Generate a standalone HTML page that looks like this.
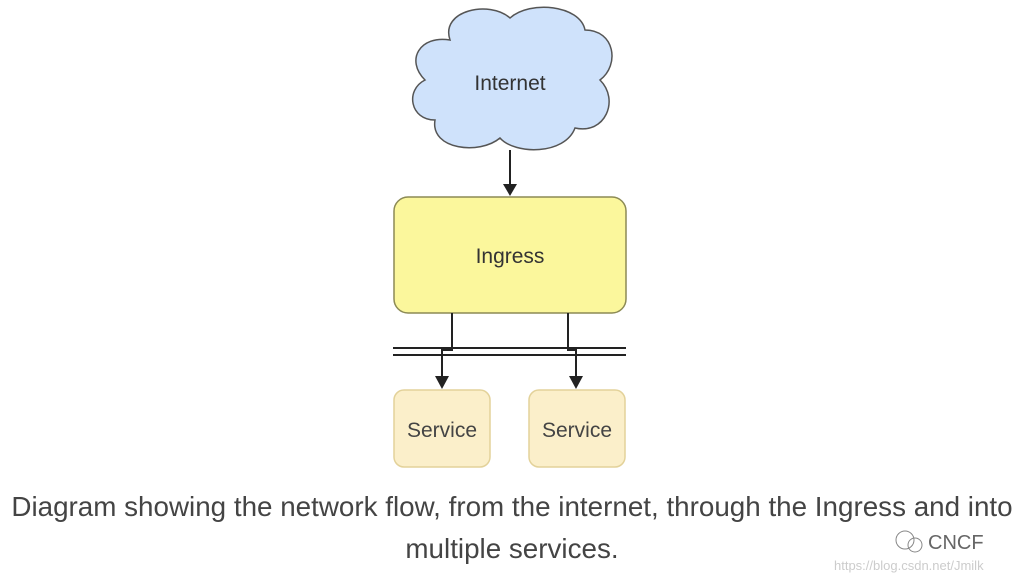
<!DOCTYPE html>
<html><head><style>
body{margin:0;width:1024px;height:582px;background:#fff;overflow:hidden;position:relative;font-family:"Liberation Sans",sans-serif}
.cap{position:absolute;left:0;width:1024px;text-align:center;font-family:"Liberation Sans",sans-serif;font-size:27.8px;color:#444;line-height:42px;top:486px;white-space:nowrap}
</style></head><body>
<svg width="1024" height="582" style="position:absolute;left:0;top:0">
<path d="M450,40 C440,10 490,0 510,18 C530,0 580,5 585,30 C615,30 620,65 600,80 C620,100 605,135 575,128 C565,155 515,155 500,138 C480,155 430,150 435,120 C410,120 405,90 425,80 C405,60 420,35 450,40 Z" fill="#cfe2fb" stroke="#555" stroke-width="1.5"/>
<text x="510" y="90" text-anchor="middle" font-size="21" fill="#333">Internet</text>
<line x1="510" y1="150" x2="510" y2="186" stroke="#222" stroke-width="2"/>
<polygon points="503,184 517,184 510,196" fill="#222"/>
<rect x="394" y="197" width="232" height="116" rx="14" fill="#fbf79c" stroke="#8c8a55" stroke-width="1.5"/>
<text x="510" y="263" text-anchor="middle" font-size="21" fill="#333">Ingress</text>
<line x1="393" y1="348" x2="626" y2="348" stroke="#222" stroke-width="2"/>
<line x1="393" y1="355" x2="626" y2="355" stroke="#222" stroke-width="2"/>
<polyline points="452,313 452,350 442,350 442,378" fill="none" stroke="#222" stroke-width="2"/>
<polyline points="568,313 568,350 576,350 576,378" fill="none" stroke="#222" stroke-width="2"/>
<polygon points="435,376 449,376 442,389" fill="#222"/>
<polygon points="569,376 583,376 576,389" fill="#222"/>
<rect x="394" y="390" width="96" height="77" rx="10" fill="#fbefca" stroke="#e3d29a" stroke-width="1.5"/>
<rect x="529" y="390" width="96" height="77" rx="10" fill="#fbefca" stroke="#e3d29a" stroke-width="1.5"/>
<text x="442" y="437" text-anchor="middle" font-size="21" fill="#444">Service</text>
<text x="577" y="437" text-anchor="middle" font-size="21" fill="#444">Service</text>
<text x="928" y="549" font-size="20" fill="#666">CNCF</text>
<text x="834" y="570" font-size="13" fill="#ccc">https://blog.csdn.net/Jmilk</text>
<circle cx="905" cy="540" r="9" fill="none" stroke="#888"/><circle cx="915" cy="545" r="7" fill="none" stroke="#888"/>
</svg>
<div class="cap">Diagram showing the network flow, from the internet, through the Ingress and into<br>multiple services.</div>
</body></html>
